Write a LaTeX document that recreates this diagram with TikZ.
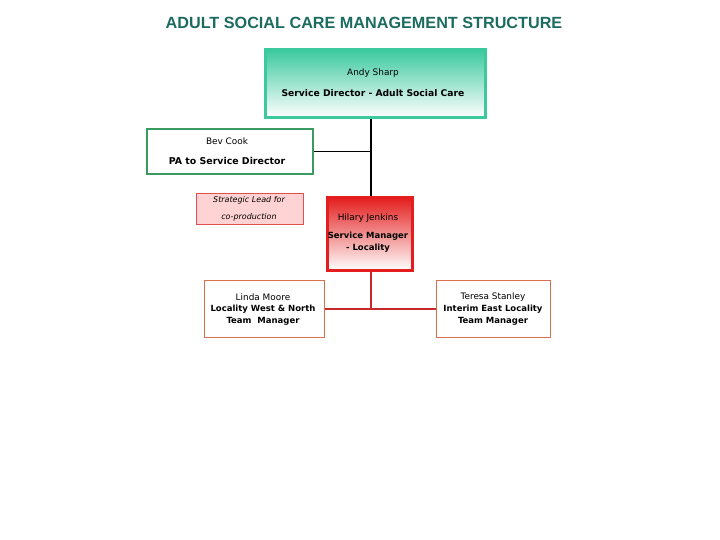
\documentclass[tikz,border=0pt]{standalone}
\usepackage{fontspec}
\setmainfont{DejaVu Sans}
\newfontfamily\titlefont{Liberation Sans}
\usetikzlibrary{shadings}
\definecolor{titleteal}{HTML}{1B6B5F}
\definecolor{andyline}{HTML}{3CC99E}
\definecolor{bevline}{HTML}{3A9A60}
\definecolor{hilline}{HTML}{E41E1E}
\definecolor{stratfill}{HTML}{FFD3D3}
\definecolor{stratline}{HTML}{E05050}
\definecolor{teamline}{HTML}{D8704E}
\definecolor{redconn}{HTML}{C8282A}
\tikzset{
  orgbox/.style={rectangle, inner sep=0pt, anchor=north west},
  pname/.style={font=\fontsize{8.9}{10}\selectfont, inner sep=0pt},
  prole/.style={font=\fontsize{8.5}{12}\selectfont\bfseries, inner sep=0pt, align=center},
}
\begin{document}
\begin{tikzpicture}[x=1pt,y=-1pt]
\useasboundingbox (0,0) rectangle (720,540);
\node[font=\fontsize{16.2}{18}\selectfont\titlefont\bfseries, text=titleteal, inner sep=0pt] (title) at (364,23) {ADULT SOCIAL CARE MANAGEMENT STRUCTURE};
% boxes
\node[orgbox, draw=andyline, line width=3pt, top color=andyline, bottom color=white, minimum width=220pt, minimum height=68pt] (andy) at (264,48) {};
\node[orgbox, draw=bevline, line width=2pt, fill=white, minimum width=166pt, minimum height=45pt] (bev) at (146,128) {};
\node[orgbox, draw=stratline, line width=0.8pt, fill=stratfill, minimum width=107pt, minimum height=31pt] (strat) at (196,193) {};
\node[orgbox, draw=hilline, line width=3pt, top color=hilline, bottom color=white, minimum width=85pt, minimum height=73pt] (hil) at (326,196) {};
\node[orgbox, draw=teamline, line width=1pt, fill=white, minimum width=120pt, minimum height=57pt] (linda) at (204,280) {};
\node[orgbox, draw=teamline, line width=1pt, fill=white, minimum width=114pt, minimum height=57pt] (teresa) at (436,280) {};
% spine
\coordinate (spine) at (371,0);
\coordinate (junc) at (371,309);
\draw[line width=2pt] (andy.south -| spine) -- (hil.north -| spine);
\draw[line width=1pt] (bev.east) -- (bev.east -| spine);
\draw[redconn, line width=2.5pt] (hil.south -| spine) -- (junc);
\draw[redconn, line width=1.2pt] (linda.east) -- (teresa.west);
% texts
\node[pname] (andyn) at (373,73) {Andy Sharp};
\node[prole, font=\fontsize{9.2}{10}\selectfont\bfseries] (andyr) at (373,93) {Service Director - Adult Social Care};
\node[pname] (bevn) at (227,141) {Bev Cook};
\node[prole, font=\fontsize{9.4}{10}\selectfont\bfseries] (bevr) at (227,161) {PA to Service Director};
\node[pname, font=\fontsize{8}{9}\selectfont\itshape] (strat1) at (249,200) {Strategic Lead for};
\node[pname, font=\fontsize{8}{9}\selectfont\itshape] (strat2) at (249,217) {co-production};
\node[pname] (hiln) at (368,218) {Hilary Jenkins};
\node[prole] (hilr) at (368,242) {Service Manager\\- Locality};
\node[pname] (lindan) at (263,297) {Linda Moore};
\node[prole] (lindar) at (263,315) {Locality West \& North\\Team\ \ Manager};
\node[pname] (teresan) at (493,297) {Teresa Stanley};
\node[prole] (teresar) at (493,315) {Interim East Locality\\Team Manager};
\end{tikzpicture}
\end{document}
